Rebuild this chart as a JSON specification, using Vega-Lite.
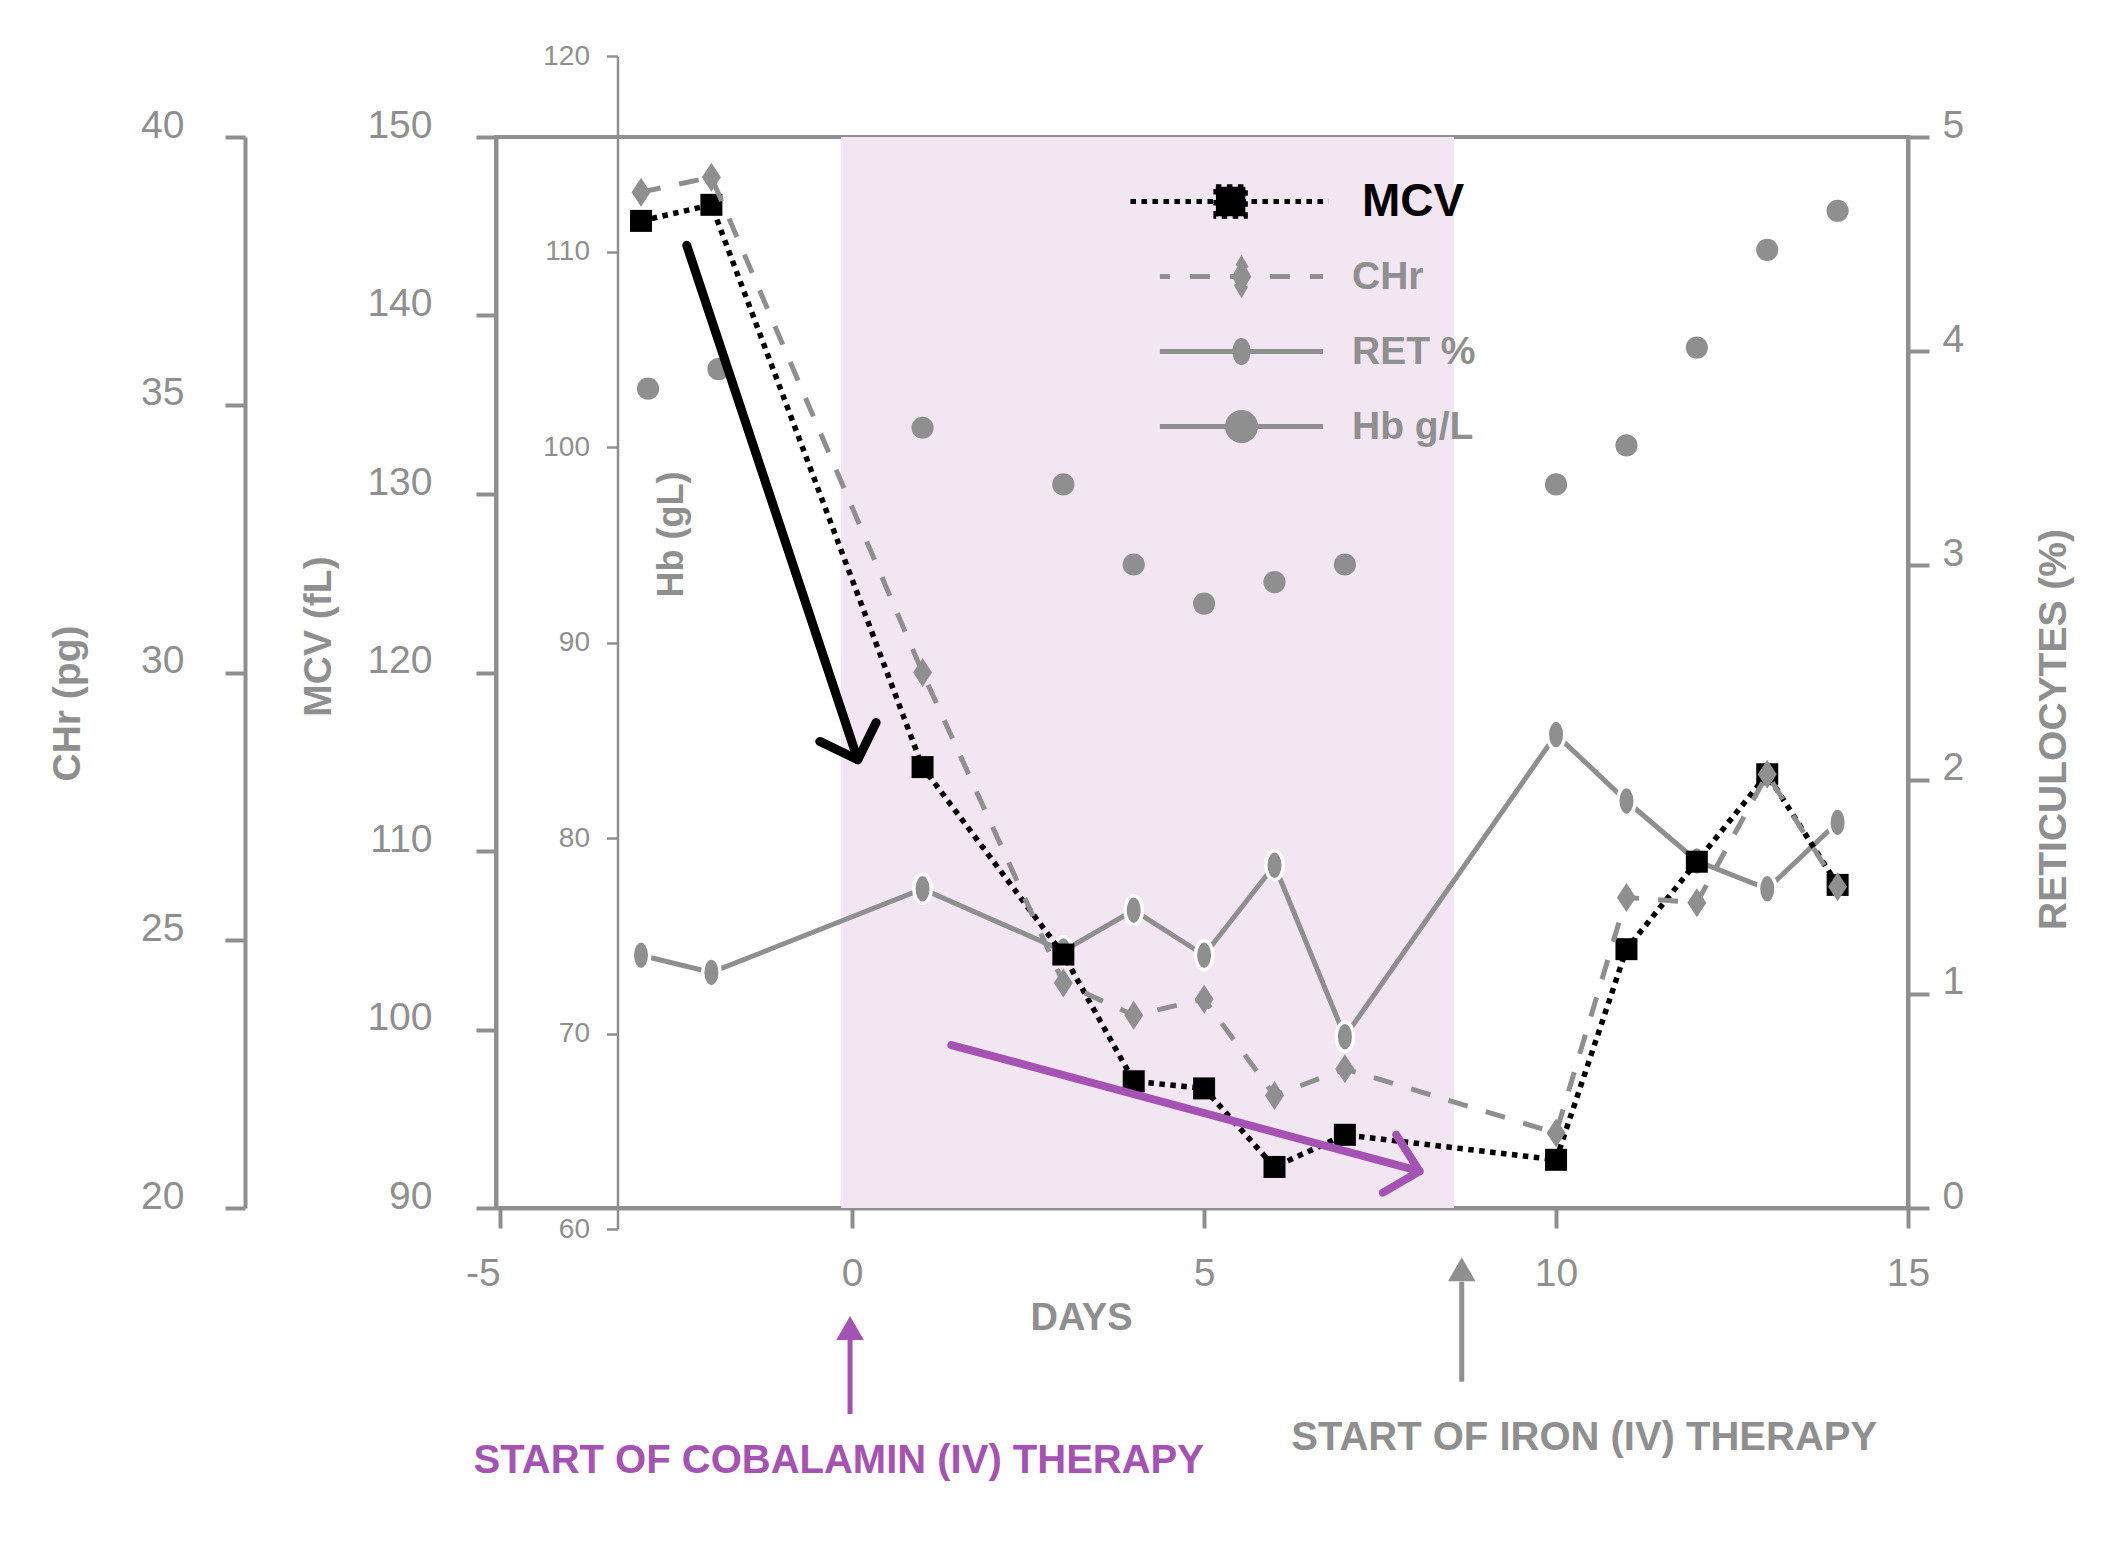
{
  "$schema": "https://vega.github.io/schema/vega-lite/v6.json",
  "width": 1412,
  "height": 1071,
  "autosize": "none",
  "padding": {"left": 496, "top": 137, "right": 196, "bottom": 347},
  "background": "white",
  "datasets": {
    "lab": [
      {"day": -3, "MCV": 145.3, "CHr": 38.97, "RET": 1.18},
      {"day": -2, "MCV": 146.2, "CHr": 39.25, "RET": 1.10},
      {"day": 1, "MCV": 114.7, "CHr": 30.0, "RET": 1.49},
      {"day": 3, "MCV": 104.2, "CHr": 24.2, "RET": 1.20},
      {"day": 4, "MCV": 97.1, "CHr": 23.6, "RET": 1.39},
      {"day": 5, "MCV": 96.7, "CHr": 23.9, "RET": 1.18},
      {"day": 6, "MCV": 92.3, "CHr": 22.1, "RET": 1.60},
      {"day": 7, "MCV": 94.1, "CHr": 22.6, "RET": 0.80},
      {"day": 10, "MCV": 92.7, "CHr": 21.4, "RET": 2.21},
      {"day": 11, "MCV": 104.5, "CHr": 25.8, "RET": 1.90},
      {"day": 12, "MCV": 109.4, "CHr": 25.7, "RET": 1.62},
      {"day": 13, "MCV": 114.3, "CHr": 28.1, "RET": 1.49},
      {"day": 14, "MCV": 108.1, "CHr": 26.0, "RET": 1.80}
    ],
    "hb": [
      {"day": -2.9, "Hb": 103.0},
      {"day": -1.9, "Hb": 104.0},
      {"day": 1, "Hb": 101.0},
      {"day": 3, "Hb": 98.1},
      {"day": 4, "Hb": 94.0},
      {"day": 5, "Hb": 92.0},
      {"day": 6, "Hb": 93.1},
      {"day": 7, "Hb": 94.0},
      {"day": 10, "Hb": 98.1},
      {"day": 11, "Hb": 100.1},
      {"day": 12, "Hb": 105.1},
      {"day": 13, "Hb": 110.1},
      {"day": 14, "Hb": 112.1}
    ],
    "shade": [{"day": -0.16, "day2": 8.55}],
    "trend": [
      {"arrow": "black", "part": "shaft", "order": 1, "day": -2.35, "mcv": 143.93},
      {"arrow": "black", "part": "shaft", "order": 2, "day": 0.08, "mcv": 115.11},
      {"arrow": "black", "part": "head", "order": 1, "day": -0.46, "mcv": 116.14},
      {"arrow": "black", "part": "head", "order": 2, "day": 0.08, "mcv": 115.11},
      {"arrow": "black", "part": "head", "order": 3, "day": 0.34, "mcv": 117.2},
      {"arrow": "purple", "part": "shaft", "order": 1, "day": 1.41, "mcv": 99.13},
      {"arrow": "purple", "part": "shaft", "order": 2, "day": 8.06, "mcv": 92.06},
      {"arrow": "purple", "part": "head", "order": 1, "day": 7.73, "mcv": 94.1},
      {"arrow": "purple", "part": "head", "order": 2, "day": 8.06, "mcv": 92.06},
      {"arrow": "purple", "part": "head", "order": 3, "day": 7.54, "mcv": 90.86}
    ],
    "therapy": [
      {"therapy": "cobalamin", "day": -0.03, "head": 83.28, "base": 82.62, "tail": 78.46, "label": "START OF COBALAMIN (IV) THERAPY", "label_day": -0.19, "label_y": 75.17},
      {"therapy": "iron", "day": 8.66, "head": 86.57, "base": 85.87, "tail": 80.27, "label": "START OF IRON (IV) THERAPY", "label_day": 10.4, "label_y": 76.46}
    ]
  },
  "encoding": {
    "x": {
      "field": "day",
      "type": "quantitative",
      "scale": {"domain": [-5.06, 15], "nice": false, "zero": false},
      "axis": {
        "orient": "bottom",
        "values": [-5, 0, 5, 10, 15],
        "labelExpr": "'' + datum.value",
        "labelAlign": {"expr": "datum.value < 0 ? 'right' : 'center'"},
        "tickSize": 20,
        "labelPadding": 26,
        "labelFlush": false,
        "title": "DAYS",
        "titleX": 585,
        "titleY": 121,
        "titleAlign": "center",
        "titleBaseline": "alphabetic",
        "titleFontSize": 38
      }
    }
  },
  "layer": [
    {
      "data": {"name": "shade"},
      "mark": {"type": "rect", "color": "#f2e6f3"},
      "encoding": {"x2": {"field": "day2"}}
    },
    {
      "data": {"name": "hb"},
      "mark": {"type": "point", "shape": "circle", "filled": true, "size": 491, "opacity": 1},
      "encoding": {
        "y": {
          "field": "Hb",
          "type": "quantitative",
          "scale": {"domain": [60, 120], "range": [1092, -80.6], "nice": false, "zero": false},
          "axis": {
            "orient": "left",
            "offset": -121.5,
            "values": [60, 70, 80, 90, 100, 110, 120],
            "tickSize": 11,
            "tickWidth": 2.5,
            "domainWidth": 2.5,
            "labelFontSize": 28,
            "labelPadding": 17,
            "labelBaseline": "middle",
            "title": "Hb (gL)",
            "titleFontSize": 36,
            "titleAngle": 270,
            "titleX": 53.5,
            "titleY": 397,
            "titleAlign": "center",
            "titleBaseline": "middle"
          }
        },
        "color": {
          "datum": "Hb g/L",
          "type": "nominal",
          "scale": {"domain": ["MCV", "CHr", "RET %", "Hb g/L"], "range": ["#000000", "#8f8f8f", "#8f8f8f", "#8f8f8f"]},
          "legend": {
            "orient": "none",
            "legendX": 726,
            "legendY": 45,
            "title": null,
            "padding": 0,
            "symbolSize": 1024,
            "symbolStrokeWidth": 5,
            "symbolOpacity": 1,
            "symbolType": {"expr": "datum.value === 'MCV' ? 'M0,-1.05M0,1.05M-6.94,0H5.44M-1.6,-0.92H0.24V0.92H-1.6Z' : datum.value === 'CHr' ? 'M0,-1.05M0,1.05M-5.1,0H5.1M0,-1.05L0.61,0L0,1.05L-0.61,0Z' : datum.value === 'RET %' ? 'M0,-1.05M0,1.05M-5.1,0H5.1M0,-0.69A0.41,0.69 0 1,1 0,0.69A0.41,0.69 0 1,1 0,-0.69Z' : 'M0,-1.05M0,1.05M-5.1,0H5.1M-0.875,0A0.875,0.875 0 1,1 0.875,0A0.875,0.875 0 1,1 -0.875,0Z'"},
            "symbolDash": {"expr": "datum.value === 'MCV' ? [5.5, 5.5] : datum.value === 'CHr' ? [20, 20] : [1, 0]"},
            "symbolDashOffset": {"expr": "datum.value === 'CHr' ? 10 : 0"},
            "symbolFillColor": {"expr": "datum.value === 'MCV' ? '#000000' : '#8f8f8f'"},
            "symbolStrokeColor": {"expr": "datum.value === 'MCV' ? '#000000' : '#8f8f8f'"},
            "labelOffset": {"expr": "datum.value === 'MCV' ? 101 : 91"},
            "rowPadding": 20,
            "labelFontWeight": "bold",
            "labelFontSize": {"expr": "datum.value === 'MCV' ? 46 : 39"},
            "labelColor": {"expr": "datum.value === 'MCV' ? '#000000' : '#8f8f8f'"}
          }
        }
      }
    },
    {
      "data": {"name": "lab"},
      "encoding": {
        "y": {
          "field": "RET",
          "type": "quantitative",
          "scale": {"domain": [0, 5], "nice": false, "zero": false},
          "axis": {
            "orient": "right",
            "values": [0, 1, 2, 3, 4, 5],
            "tickSize": 21,
            "labelPadding": 13,
            "labelBaseline": "alphabetic",
            "title": "RETICULOCYTES (%)",
            "titleAngle": 270,
            "titleX": 145,
            "titleY": 592,
            "titleAlign": "center",
            "titleBaseline": "middle"
          }
        },
        "color": {"datum": "RET %", "type": "nominal", "scale": {"domain": ["MCV", "CHr", "RET %", "Hb g/L"], "range": ["#000000", "#8f8f8f", "#8f8f8f", "#8f8f8f"]}}
      },
      "layer": [
        {"mark": {"type": "line", "strokeWidth": 5}},
        {"mark": {"type": "point", "filled": true, "opacity": 1, "size": 400, "shape": "M0,-1.45A0.875,1.45 0 1,1 0,1.45A0.875,1.45 0 1,1 0,-1.45Z", "stroke": "#ffffff", "strokeWidth": 3.5, "strokeOpacity": 1}}
      ]
    },
    {
      "layer": [
        {
          "data": {"name": "lab"},
          "mark": {"type": "line", "strokeWidth": 5.5, "strokeDash": [5.5, 5.5]},
          "encoding": {
            "y": {
              "field": "MCV",
              "type": "quantitative",
              "scale": {"domain": [90, 150], "nice": false, "zero": false},
              "axis": {
                "orient": "left",
                "values": [90, 100, 110, 120, 130, 140, 150],
                "tickSize": 20,
                "labelPadding": 44,
                "labelBaseline": "alphabetic",
                "title": "MCV (fL)",
                "titleAngle": 270,
                "titleX": -178,
                "titleY": 499,
                "titleAlign": "center",
                "titleBaseline": "middle"
              }
            },
            "color": {"datum": "MCV", "type": "nominal", "scale": {"domain": ["MCV", "CHr", "RET %", "Hb g/L"], "range": ["#000000", "#8f8f8f", "#8f8f8f", "#8f8f8f"]}}
          }
        },
        {
          "data": {"name": "lab"},
          "mark": {"type": "point", "shape": "square", "filled": true, "size": 484, "opacity": 1},
          "encoding": {
            "y": {"field": "MCV", "type": "quantitative", "scale": {"domain": [90, 150], "nice": false, "zero": false}},
            "color": {"datum": "MCV", "type": "nominal", "scale": {"domain": ["MCV", "CHr", "RET %", "Hb g/L"], "range": ["#000000", "#8f8f8f", "#8f8f8f", "#8f8f8f"]}}
          }
        }
      ]
    },
    {
      "data": {"name": "lab"},
      "encoding": {
        "y": {
          "field": "CHr",
          "type": "quantitative",
          "scale": {"domain": [20, 40], "nice": false, "zero": false},
          "axis": {
            "orient": "left",
            "offset": 251,
            "values": [20, 25, 30, 35, 40],
            "tickSize": 20,
            "labelPadding": 41,
            "labelBaseline": "alphabetic",
            "title": "CHr (pg)",
            "titleAngle": 270,
            "titleX": -178,
            "titleY": 566,
            "titleAlign": "center",
            "titleBaseline": "middle"
          }
        },
        "color": {"datum": "CHr", "type": "nominal", "scale": {"domain": ["MCV", "CHr", "RET %", "Hb g/L"], "range": ["#000000", "#8f8f8f", "#8f8f8f", "#8f8f8f"]}}
      },
      "layer": [
        {"mark": {"type": "line", "strokeWidth": 5, "strokeDash": [20, 19]}},
        {"mark": {"type": "point", "filled": true, "opacity": 1, "size": 400, "shape": "M0,-1.45L0.95,0L0,1.45L-0.95,0Z"}}
      ]
    },
    {
      "data": {"name": "trend"},
      "transform": [{"filter": "datum.arrow === 'black'"}],
      "mark": {"type": "line", "color": "#000000", "strokeWidth": 9, "strokeJoin": "round", "strokeCap": "round"},
      "encoding": {
        "y": {"field": "mcv", "type": "quantitative", "scale": {"domain": [90, 150], "nice": false, "zero": false}, "axis": null},
        "detail": {"field": "part"},
        "order": {"field": "order"}
      }
    },
    {
      "data": {"name": "trend"},
      "transform": [{"filter": "datum.arrow === 'purple'"}],
      "mark": {"type": "line", "color": "#a553b3", "strokeWidth": 8, "strokeJoin": "round", "strokeCap": "round"},
      "encoding": {
        "y": {"field": "mcv", "type": "quantitative", "scale": {"domain": [90, 150], "nice": false, "zero": false}, "axis": null},
        "detail": {"field": "part"},
        "order": {"field": "order"}
      }
    },
    {
      "data": {"name": "therapy"},
      "layer": [
        {
          "mark": {"type": "rule", "strokeWidth": 5},
          "encoding": {
            "y": {"field": "base", "type": "quantitative", "scale": {"domain": [90, 150], "nice": false, "zero": false}, "axis": null},
            "y2": {"field": "tail"},
            "stroke": {"field": "therapy", "type": "nominal", "scale": {"domain": ["cobalamin", "iron"], "range": ["#a553b3", "#8f8f8f"]}, "legend": null}
          }
        },
        {
          "mark": {"type": "point", "filled": true, "opacity": 1, "size": 576, "shape": "M0,-1L1.15,1L-1.15,1Z", "strokeWidth": 0},
          "encoding": {
            "y": {"field": "head", "type": "quantitative", "scale": {"domain": [90, 150], "nice": false, "zero": false}, "axis": null},
            "fill": {"field": "therapy", "type": "nominal", "scale": {"domain": ["cobalamin", "iron"], "range": ["#a553b3", "#8f8f8f"]}, "legend": null}
          }
        },
        {
          "mark": {"type": "text", "fontSize": 40, "fontWeight": "bold", "align": "center", "baseline": "alphabetic"},
          "encoding": {
            "x": {"field": "label_day", "type": "quantitative"},
            "y": {"field": "label_y", "type": "quantitative", "scale": {"domain": [90, 150], "nice": false, "zero": false}, "axis": null},
            "text": {"field": "label"},
            "fill": {"field": "therapy", "type": "nominal", "scale": {"domain": ["cobalamin", "iron"], "range": ["#a553b3", "#8f8f8f"]}, "legend": null}
          }
        }
      ]
    }
  ],
  "resolve": {"scale": {"y": "independent"}, "axis": {"y": "independent"}},
  "config": {
    "font": "Liberation Sans",
    "view": {"stroke": "#8f8f8f", "strokeWidth": 4},
    "axis": {
      "domainColor": "#8f8f8f",
      "tickColor": "#8f8f8f",
      "labelColor": "#8f8f8f",
      "titleColor": "#8f8f8f",
      "domainWidth": 4,
      "tickWidth": 4,
      "grid": false,
      "labelFont": "Liberation Sans",
      "titleFont": "Liberation Sans",
      "labelFontSize": 39,
      "titleFontSize": 39,
      "titleFontWeight": "bold",
      "labelOverlap": false,
      "labelFlush": false
    },
    "legend": {"labelFont": "Liberation Sans"}
  }
}
